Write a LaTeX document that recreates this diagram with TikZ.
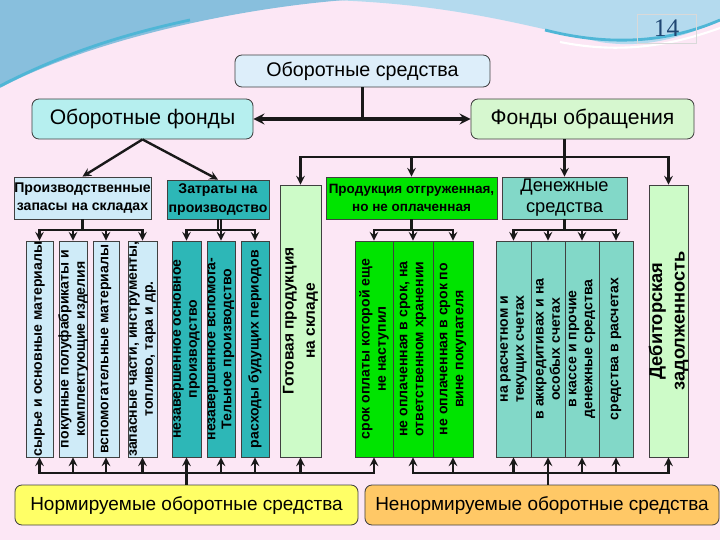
\documentclass[tikz,border=0pt]{standalone}
\usepackage{fontspec}
\setmainfont{Liberation Sans}
\newfontfamily\numfont{Liberation Serif}
\usepackage{tikz}
\usetikzlibrary{
  arrows,
  arrows.meta,
  calc,
  positioning
}
\tikzset{>=stealth}
\definecolor{bgpink}{HTML}{FCE7F5}
\definecolor{skyblue}{HTML}{88BFDD}
\definecolor{skylight}{HTML}{B4DAEE}
\definecolor{skyedge}{HTML}{4FB6D6}
\definecolor{numblue}{HTML}{1F4672}
\definecolor{osfill}{HTML}{DDEEFA}
\definecolor{offill}{HTML}{B6EFEF}
\definecolor{fofill}{HTML}{D6F7CF}
\definecolor{zapfill}{HTML}{CFEBF8}
\definecolor{zatfill}{HTML}{2DB7B7}
\definecolor{prodfill}{HTML}{00E400}
\definecolor{denfill}{HTML}{82D8C8}
\definecolor{palegreen}{HTML}{CDFBC8}
\definecolor{normfill}{HTML}{FFFF66}
\definecolor{nenormfill}{HTML}{FFC866}
\tikzset{
  topbox/.style={draw=black!75, rounded corners=5pt, line width=0.6pt, inner sep=0pt, align=center},
  grpbox/.style={draw=black!75, line width=0.6pt, inner sep=0pt, align=center},
  colbox/.style={draw=black!75, line width=0.5pt, inner sep=0pt, minimum height=5.4cm},
  coltext/.style={rotate=90, align=center, inner sep=0pt, font=\bfseries\fontsize{10}{11.5}\selectfont},
  link/.style={line width=1.7pt, draw=black!90}
}

\begin{document}
\begin{tikzpicture}[x=0.025cm, y=-0.025cm]
  % background and swoosh
  \fill[bgpink] (0,0) rectangle (720,540);
  \useasboundingbox (0,0) rectangle (720,540);
  \fill[skylight] (330,0) .. controls (450,4) and (520,24) .. (600,42)
    .. controls (650,50) and (690,34) .. (720,20) -- (720,0) -- cycle;
  \fill[skyblue] (0,0) -- (0,88) .. controls (80,45) and (220,10) .. (345,0) -- cycle;
  \draw[skyedge, line width=2pt] (0,86) .. controls (60,55) and (120,35) .. (190,20);
  \draw[skyedge, line width=2pt] (545,30) .. controls (600,44) and (660,46) .. (720,20);
  \draw[white, line width=1.5pt] (560,42) .. controls (620,54) and (670,46) .. (720,28);

  % page number
  \node[draw=black!15, line width=0.5pt, minimum width=1.475cm, minimum height=0.725cm,
    inner sep=0pt, text=numblue, font=\numfont\fontsize{18}{18}\selectfont] (num) at (666.5,28.5) {14};

  % upper level
  \node[topbox, fill=osfill, minimum width=6.375cm, minimum height=0.8cm,
    font=\fontsize{14}{16}\selectfont] (os) at (362.5,71) {Оборотные средства};
  \node[topbox, fill=offill, minimum width=5.525cm, minimum height=1cm,
    font=\fontsize{15}{17}\selectfont] (of) at (142.5,119) {Оборотные фонды};
  \node[topbox, fill=fofill, minimum width=5.575cm, minimum height=1cm,
    font=\fontsize{15}{17}\selectfont] (fo) at (582.5,119) {Фонды обращения};

  % groups
  \node[grpbox, fill=zapfill, minimum width=3.425cm, minimum height=1.05cm,
    font=\bfseries\fontsize{10}{13}\selectfont] (zap) at (82.5,198) {Производственные\\запасы на складах};
  \node[grpbox, fill=zatfill, minimum width=2.55cm, minimum height=0.975cm,
    font=\bfseries\fontsize{10}{13}\selectfont] (zat) at (218,199.5) {Затраты на\\производство};
  \node[grpbox, fill=prodfill, minimum width=4.275cm, minimum height=1.05cm,
    font=\bfseries\fontsize{9.6}{12.5}\selectfont] (prod) at (411.5,198) {Продукция отгруженная,\\но не оплаченная};
  \node[grpbox, fill=denfill, minimum width=3.125cm, minimum height=1.05cm,
    font=\fontsize{13}{15}\selectfont] (den) at (564.5,198) {Денежные\\средства};
  \node[grpbox, fill=palegreen, minimum width=1.025cm, minimum height=6.8cm] (got) at (300.5,321) {};
  \node[coltext, font=\bfseries\fontsize{11}{15}\selectfont] at (got) {Готовая продукция\\на складе};
  \node[grpbox, fill=palegreen, minimum width=0.975cm, minimum height=6.8cm] (deb) at (668.5,321) {};
  \node[coltext, font=\bfseries\fontsize{13}{16}\selectfont] at (deb) {Дебиторская\\задолженность};

  % columns
  \node[colbox, fill=zapfill, minimum width=0.675cm] (c1) at (39.5,349) {};
  \node[colbox, fill=zapfill, minimum width=0.7cm] (c2) at (73,349) {};
  \node[colbox, fill=zapfill, minimum width=0.65cm] (c3) at (106,349) {};
  \node[colbox, fill=zapfill, minimum width=0.725cm] (c4) at (142.5,349) {};
  \node[colbox, fill=zatfill, minimum width=0.725cm] (t1) at (186.5,349) {};
  \node[colbox, fill=zatfill, minimum width=0.7cm] (t2) at (221,349) {};
  \node[colbox, fill=zatfill, minimum width=0.7cm] (t3) at (255,349) {};
  \node[colbox, fill=prodfill, minimum width=0.95cm] (g1) at (374,349) {};
  \node[colbox, fill=prodfill, minimum width=1cm] (g2) at (413,349) {};
  \node[colbox, fill=prodfill, minimum width=1cm] (g3) at (453,349) {};
  \node[colbox, fill=denfill, minimum width=0.875cm] (m1) at (513.5,349) {};
  \node[colbox, fill=denfill, minimum width=0.85cm] (m2) at (548,349) {};
  \node[colbox, fill=denfill, minimum width=0.85cm] (m3) at (582,349) {};
  \node[colbox, fill=denfill, minimum width=0.85cm] (m4) at (616,349) {};

  \node[coltext] at (c1) {сырье и основные материалы};
  \node[coltext] at (c2) {покупные полуфабрикаты и\\комплектующие изделия};
  \node[coltext] at (c3) {вспомогательные материалы};
  \node[coltext] at (c4) {запасные части, инструменты,\\топливо, тара и др.};
  \node[coltext] at (t1) {незавершенное основное\\производство};
  \node[coltext] at (t2) {незавершенное вспомога-\\Тельное производство};
  \node[coltext] at (t3) {расходы будущих периодов};
  \node[coltext] at (g1) {срок оплаты которой еще\\не наступил};
  \node[coltext] at (g2) {не оплаченная в срок, на\\ответственном хранении};
  \node[coltext] at (g3) {не оплаченная в срок по\\вине покупателя};
  \node[coltext] at (m1) {на расчетном и\\текущих счетах};
  \node[coltext] at (m2) {в аккредитивах и на\\особых счетах};
  \node[coltext] at (m3) {в кассе и прочие\\денежные средства};
  \node[coltext] at (m4) {средства в расчетах};

  % lower level
  \node[topbox, fill=normfill, minimum width=8.575cm, minimum height=1cm,
    font=\fontsize{13.5}{16}\selectfont] (norm) at (186.5,505) {Нормируемые оборотные средства};
  \node[topbox, fill=nenormfill, minimum width=8.85cm, minimum height=1cm,
    font=\fontsize{13.5}{16}\selectfont] (nenorm) at (542,505) {Ненормируемые оборотные средства};

  % connectors, upper part
  \coordinate (busZ) at (0,230);
  \coordinate (busF) at (0,157);
  \coordinate (busN) at (0,473);
  \draw[link] (os.south) -- (os.south |- of.east);
  \draw[link, line width=2.4pt, <->] (of.east) -- (fo.west);
  \draw[link, ->] (of.south) -- (zap.north);
  \draw[link, ->] (of.south) -- (zat.north);
  \draw[link, ->] (fo.south -| den.north) -- (den.north);
  \draw[link, ->] (busF -| den.north) -| (got.north);
  \draw[link, ->] (busF -| den.north) -| (deb.north);
  \draw[link, ->] (busF -| prod.north) -- (prod.north);

  \draw[link, ->] (zap.south) |- (busZ -| c1) -- (c1.north);
  \draw[link, ->] (zap.south) |- (busZ -| c4) -- (c4.north);
  \draw[link, ->] (busZ -| c2) -- (c2.north);
  \draw[link, ->] (busZ -| c3) -- (c3.north);
  \draw[link, ->] (zat.south) |- (busZ -| t1) -- (t1.north);
  \draw[link, ->] (zat.south) |- (busZ -| t3) -- (t3.north);
  \draw[link, ->] (zat.south -| t2) -- (t2.north);
  \draw[link, ->] (prod.south) |- (busZ -| g1) -- (g1.north);
  \draw[link, ->] (prod.south) |- (busZ -| g3) -- (g3.north);
  \draw[link, ->] (busZ -| g2) -- (g2.north);
  \draw[link, ->] (den.south) |- (busZ -| m1) -- (m1.north);
  \draw[link, ->] (den.south) |- (busZ -| m4) -- (m4.north);
  \draw[link, ->] (busZ -| m2) -- (m2.north);
  \draw[link, ->] (busZ -| m3) -- (m3.north);

  % connectors, lower part
  \draw[link, ->] (norm.north) |- (busN -| c1) -- (c1.south);
  \draw[link, ->] (norm.north) |- (busN -| g1) -- (g1.south);
  \draw[link, ->] (busN -| c2) -- (c2.south);
  \draw[link, ->] (busN -| c3) -- (c3.south);
  \draw[link, ->] (busN -| c4) -- (c4.south);
  \draw[link, ->] (busN -| t1) -- (t1.south);
  \draw[link, ->] (busN -| t2) -- (t2.south);
  \draw[link, ->] (busN -| t3) -- (t3.south);
  \draw[link, ->] (busN -| got) -- (got.south);
  \draw[link, ->] (nenorm.north -| m2) |- (busN -| g2) -- (g2.south);
  \draw[link, ->] (nenorm.north -| m2) |- (busN -| deb) -- (deb.south);
  \draw[link, ->] (busN -| g3) -- (g3.south);
  \draw[link, ->] (busN -| m1) -- (m1.south);
  \draw[link, ->] (nenorm.north -| m2) -- (m2.south);
  \draw[link, ->] (busN -| m3) -- (m3.south);
  \draw[link, ->] (busN -| m4) -- (m4.south);
\end{tikzpicture}
\end{document}
